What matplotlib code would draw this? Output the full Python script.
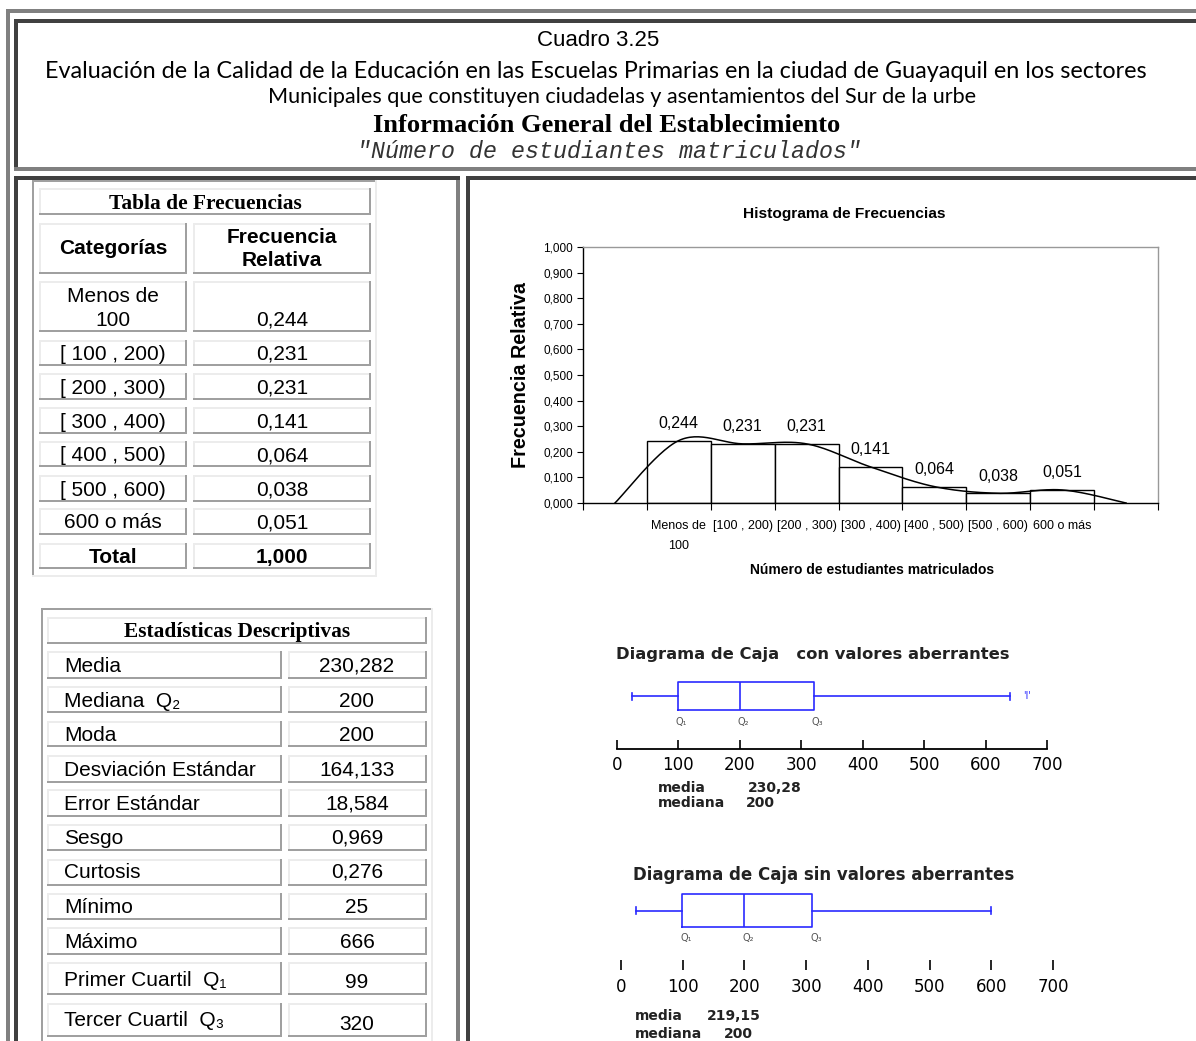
import numpy as np
import matplotlib
matplotlib.use('Agg')
import matplotlib.pyplot as plt
from matplotlib.patches import Rectangle
from matplotlib import font_manager as fm
from matplotlib.ticker import FuncFormatter, FixedLocator

# ---------------- data ----------------
categorias = ['Menos de\n100', '[ 100 , 200)', '[ 200 , 300)', '[ 300 , 400)',
              '[ 400 , 500)', '[ 500 , 600)', '600 o más']
hist_labels = ['Menos de\n100', '[100 , 200)', '[200 , 300)', '[300 , 400)',
               '[400 , 500)', '[500 , 600)', '600 o más']
frecuencia_relativa = [0.244, 0.231, 0.231, 0.141, 0.064, 0.038, 0.051]
frecuencia_total = 1.000
curva_valores = [0.0, 0.244, 0.231, 0.231, 0.141, 0.064, 0.038, 0.051, 0.0]
hist_yticks = [0.0, 0.1, 0.2, 0.3, 0.4, 0.5, 0.6, 0.7, 0.8, 0.9, 1.0]

estadisticas_nombres = ['Media', 'Mediana  Q₂', 'Moda', 'Desviación Estándar',
                        'Error Estándar', 'Sesgo', 'Curtosis', 'Mínimo', 'Máximo',
                        'Primer Cuartil  Q₁', 'Tercer Cuartil  Q₃']
estadisticas_valores = ['230,282', '200', '200', '164,133', '18,584', '0,969',
                        '0,276', '25', '666', '99', '320']

caja1_stats = dict(whislo=25, q1=99, med=200, q3=320, whishi=640)
caja1_aberrantes = [666]
caja2_stats = dict(whislo=25, q1=99, med=200, q3=310, whishi=600)
caja1_media, caja1_mediana = '230,28', '200'
caja2_media, caja2_mediana = '219,15', '200'
caja_ticks = [0, 100, 200, 300, 400, 500, 600, 700]

# ---------------- helpers ----------------
W, H = 1196, 1041
fig = plt.figure(figsize=(W / 100, H / 100), dpi=100)
fig.patch.set_facecolor('white')
bg = fig.add_axes([0, 0, 1, 1])
bg.set_xlim(0, W)
bg.set_ylim(H, 0)
bg.axis('off')
renderer = fig.canvas.get_renderer()


def have(name):
    try:
        fm.findfont(fm.FontProperties(family=name), fallback_to_default=False)
        return True
    except Exception:
        return False


NARROW = 'Liberation Sans Narrow' if have('Liberation Sans Narrow') else 'Liberation Sans'
SANS = 'Liberation Sans'
SERIF = 'Liberation Serif'
ROUND = 'Lato' if have('Lato') else 'DejaVu Sans'


def rect(x0, y0, x1, y1, c):
    bg.add_patch(Rectangle((x0, y0), x1 - x0, y1 - y0, facecolor=c,
                           edgecolor='none', lw=0))


def ftext(x, y, s, width=None, size=10, ax=None, **kw):
    ax = ax or bg
    t = ax.text(x, y, s, fontsize=size, **kw)
    if width:
        w = t.get_window_extent(renderer).width
        t.set_fontsize(size * width / w)
    return t


LIGHT = '#ececec'
MID = '#a0a0a0'
GRAY = '#808080'
DARK = '#404040'


def cell(x0, y0, x1, y1):
    rect(x0, y0, x1, y0 + 2, LIGHT)
    rect(x0, y0, x0 + 2, y1, LIGHT)
    rect(x0, y1 - 2, x1, y1, MID)
    rect(x1 - 2, y0, x1, y1, MID)


# ---------------- page frame ----------------
rect(6, 9, W, 13, GRAY)
rect(6, 9, 10, H, GRAY)
rect(14, 19, W, 23, DARK)
rect(14, 19, 18, 171, DARK)
rect(14, 167, W, 171, GRAY)
rect(14, 176, 460, 180, DARK)
rect(14, 176, 18, H, DARK)
rect(456, 180, 460, H, GRAY)
rect(466, 176, W, 180, DARK)
rect(466, 176, 470, H, DARK)

# ---------------- header titles ----------------
ftext(598, 40, 'Cuadro 3.25', width=123, family=NARROW, ha='center', va='center')
ftext(596, 72, 'Evaluación de la Calidad de la Educación en las Escuelas Primarias en la ciudad de Guayaquil en los sectores',
      width=1100, family=ROUND, ha='center', va='center')
ftext(622, 97, 'Municipales que constituyen ciudadelas y asentamientos del Sur de la urbe',
      width=709, family=ROUND, ha='center', va='center')
ftext(607, 125, 'Información General del Establecimiento', width=469, family=SERIF,
      weight='bold', ha='center', va='center')
ftext(609, 151, '"Número de estudiantes matriculados"', width=504, family='Liberation Mono',
      style='italic', color='#333333', ha='center', va='center')

# ---------------- table 1: frecuencias ----------------
rect(32, 180, 377, 182, MID)
rect(32, 180, 34, 577, MID)
rect(375, 180, 377, 577, LIGHT)
rect(32, 575, 377, 577, LIGHT)
cell(39, 188, 371, 215)
ftext(205, 209, 'Tabla de Frecuencias', width=193, family=SERIF, weight='bold',
      ha='center', va='baseline')
cell(39, 223, 187, 274)
cell(193, 223, 371, 274)
ftext(113, 254, 'Categorías', size=15, family=SANS, weight='bold', ha='center', va='baseline')
ftext(282, 243, 'Frecuencia', size=15, family=SANS, weight='bold', ha='center', va='baseline')
ftext(282, 266, 'Relativa', size=15, family=SANS, weight='bold', ha='center', va='baseline')

t1_rows = [(281, 332), (340, 366), (373, 400), (407, 434), (441, 467), (475, 502), (508, 535)]
for (y0, y1), cat, val in zip(t1_rows, categorias, frecuencia_relativa):
    cell(39, y0, 187, y1)
    cell(193, y0, 371, y1)
    vtxt = f'{val:.3f}'.replace('.', ',')
    if '\n' in cat:
        l1, l2 = cat.split('\n')
        ftext(113, y0 + 21, l1, size=15, family=SANS, ha='center', va='baseline')
        ftext(113, y0 + 45, l2, size=15, family=SANS, ha='center', va='baseline')
        ftext(282, y0 + 45, vtxt, size=15, family=SANS, ha='center', va='baseline')
    else:
        yb = (y0 + y1) / 2 + 7
        ftext(113, yb, cat, size=15, family=SANS, ha='center', va='baseline')
        ftext(282, yb, vtxt, size=15, family=SANS, ha='center', va='baseline')
cell(39, 543, 187, 569)
cell(193, 543, 371, 569)
ftext(113, 563, 'Total', size=15, family=SANS, weight='bold', ha='center', va='baseline')
ftext(282, 563, f'{frecuencia_total:.3f}'.replace('.', ','), size=15, family=SANS,
      weight='bold', ha='center', va='baseline')

# ---------------- table 2: estadisticas ----------------
rect(41, 608, 433, 610, MID)
rect(41, 608, 43, H, MID)
rect(431, 608, 433, H, LIGHT)
cell(47, 617, 427, 644)
ftext(237, 637, 'Estadísticas Descriptivas', width=226, family=SERIF, weight='bold',
      ha='center', va='baseline')
t2_rows = [(651, 679), (686, 713), (721, 747), (755, 783), (789, 817), (824, 851),
           (859, 886), (893, 920), (927, 955), (962, 995), (1003, 1037)]
t2_label_base = [672, 707, 741, 776, 810, 844, 878, 913, 948, 986, 1026]
t2_value_base = [672, 707, 741, 776, 810, 844, 878, 913, 948, 988, 1030]
for (y0, y1), nm, val, lb, vb in zip(t2_rows, estadisticas_nombres, estadisticas_valores,
                                     t2_label_base, t2_value_base):
    cell(47, y0, 282, y1)
    cell(288, y0, 427, y1)
    ftext(64, lb, nm, size=15, family=[SANS, 'DejaVu Sans'], ha='left', va='baseline')
    ftext(357, vb, val, size=15, family=SANS, ha='center', va='baseline')

# ---------------- histogram ----------------
axh = fig.add_axes([583 / W, 1 - 503 / H, (1158 - 583) / W, (503 - 247) / H])
xpos = np.arange(len(frecuencia_relativa)) + 1
axh.bar(xpos, frecuencia_relativa, width=1, align='edge', color='white',
        edgecolor='black', lw=1, zorder=2)


def smooth(xs, ys, n=30):
    P = np.column_stack([xs, ys]).astype(float)
    E = np.vstack([P[0], P, P[-1]])
    out = []
    for i in range(1, len(E) - 2):
        p0, p1, p2, p3 = E[i - 1], E[i], E[i + 1], E[i + 2]
        c1 = p1 + (p2 - p0) / 6
        c2 = p2 - (p3 - p1) / 6
        t = np.linspace(0, 1, n)[:, None]
        out.append((1 - t) ** 3 * p1 + 3 * (1 - t) ** 2 * t * c1 +
                   3 * (1 - t) * t ** 2 * c2 + t ** 3 * p2)
    return np.vstack(out)


cx = np.arange(len(curva_valores)) + 0.5
cv = smooth(cx, curva_valores)
axh.plot(cv[:, 0], cv[:, 1], color='black', lw=1.1, zorder=3, clip_on=False)
for x, v in zip(xpos, frecuencia_relativa):
    axh.annotate(f'{v:.3f}'.replace('.', ','), (x + 0.5, v), xytext=(0, 7),
                 textcoords='offset points', ha='center', va='bottom',
                 fontsize=11.5, family=SANS)
axh.set_xlim(0, 9)
axh.set_ylim(0, 1)
axh.set_yticks(hist_yticks)
axh.yaxis.set_major_formatter(FuncFormatter(lambda v, p: f'{v:.3f}'.replace('.', ',')))
axh.tick_params(axis='y', direction='out', length=4, width=0.8, pad=3, labelsize=8.5)
for lb in axh.get_yticklabels():
    lb.set_family(NARROW)
axh.xaxis.set_major_locator(FixedLocator(list(range(0, 10))))
axh.set_xticklabels([])
axh.xaxis.set_minor_locator(FixedLocator(list(xpos + 0.5)))
axh.set_xticklabels(hist_labels, minor=True)
axh.tick_params(axis='x', which='major', direction='out', length=5, width=0.8)
axh.tick_params(axis='x', which='minor', length=0, pad=12, labelsize=9)
for lb in axh.get_xticklabels(minor=True):
    lb.set_family(NARROW)
    lb.set_linespacing(1.9)
    lb.set_verticalalignment('top')
for s in ['top', 'right']:
    axh.spines[s].set_color('#999999')
    axh.spines[s].set_linewidth(1)
for s in ['left', 'bottom']:
    axh.spines[s].set_color('black')
    axh.spines[s].set_linewidth(1)

ftext(844, 214, 'Histograma de Frecuencias', width=202, family=NARROW, weight='bold',
      ha='center', va='center')
ftext(872, 570, 'Número de estudiantes matriculados', width=245, family=NARROW,
      weight='bold', ha='center', va='center')
t = bg.text(520, 375, 'Frecuencia Relativa', rotation=90, fontsize=10, family=SANS,
            weight='bold', ha='center', va='center')
h = t.get_window_extent(renderer).height
t.set_fontsize(10 * 185 / h)

# ---------------- box plots ----------------
BLUE = '#2a2aff'
TXT = '#222222'


def draw_box(ax, stats, pos, width, capw):
    st = dict(stats, label='')
    kw = dict(positions=[pos], widths=width, showfliers=False, capwidths=[capw],
              boxprops=dict(color=BLUE, lw=1.2), whiskerprops=dict(color=BLUE, lw=1.2),
              capprops=dict(color=BLUE, lw=1.2), medianprops=dict(color=BLUE, lw=1.2))
    try:
        ax.bxp([st], orientation='horizontal', **kw)
    except TypeError:
        ax.bxp([st], vert=False, **kw)


# plot 1
ax1 = fig.add_axes([617 / W, 1 - 749 / H, 430 / W, 74 / H])
draw_box(ax1, caja1_stats, 0.716, 0.378, 0.095)
for v in caja1_aberrantes:
    ax1.text(v + 2, 0.716, "'I'", color=BLUE, fontsize=7, ha='center', va='center')
ax1.set_xlim(0, 700)
ax1.set_ylim(0, 1)
ax1.set_yticks([])
ax1.set_xticks(caja_ticks)
ax1.set_xticklabels([str(v) for v in caja_ticks])
ax1.tick_params(axis='x', direction='in', length=6.5, width=1.2, pad=5, labelsize=12)
for s in ['top', 'right', 'left']:
    ax1.spines[s].set_visible(False)
ax1.spines['bottom'].set_linewidth(1.3)
ax1.patch.set_alpha(0)
for q, nm in zip([caja1_stats['q1'], caja1_stats['med'], caja1_stats['q3']], ['Q₁', 'Q₂', 'Q₃']):
    ax1.text(q + 6, 0.36, nm, fontsize=7, color='#555555', ha='center', va='center')

ftext(616, 655, 'Diagrama de Caja   con valores aberrantes', width=396,
      family='DejaVu Sans', weight='bold', color=TXT, ha='left', va='center')
ftext(658, 788, 'media', size=10, family='DejaVu Sans', weight='bold', color=TXT, va='center')
ftext(748, 788, caja1_media, size=10, family='DejaVu Sans', weight='bold', color=TXT, va='center')
ftext(658, 803, 'mediana', size=10, family='DejaVu Sans', weight='bold', color=TXT, va='center')
ftext(746, 803, caja1_mediana, size=10, family='DejaVu Sans', weight='bold', color=TXT, va='center')

# plot 2
ax2 = fig.add_axes([621 / W, 1 - 970 / H, 432 / W, 84 / H])
draw_box(ax2, caja2_stats, 0.708, 0.393, 0.083)
ax2.set_xlim(0, 700)
ax2.set_ylim(0, 1)
ax2.set_yticks([])
ax2.set_xticks(caja_ticks)
ax2.set_xticklabels([str(v) for v in caja_ticks])
ax2.tick_params(axis='x', direction='in', length=7, width=1.2, pad=6, labelsize=12)
for s in ['top', 'right', 'left', 'bottom']:
    ax2.spines[s].set_visible(False)
ax2.patch.set_alpha(0)
for q, nm in zip([caja2_stats['q1'], caja2_stats['med'], caja2_stats['q3']], ['Q₁', 'Q₂', 'Q₃']):
    ax2.text(q + 6, 0.38, nm, fontsize=7, color='#555555', ha='center', va='center')

ftext(633, 875, 'Diagrama de Caja sin valores aberrantes', width=382,
      family='DejaVu Sans', weight='bold', color=TXT, ha='left', va='center')
ftext(635, 1016, 'media', size=10, family='DejaVu Sans', weight='bold', color=TXT, va='center')
ftext(707, 1016, caja2_media, size=10, family='DejaVu Sans', weight='bold', color=TXT, va='center')
ftext(635, 1034, 'mediana', size=10, family='DejaVu Sans', weight='bold', color=TXT, va='center')
ftext(724, 1034, caja2_mediana, size=10, family='DejaVu Sans', weight='bold', color=TXT, va='center')

fig.savefig('out.png', dpi=100, facecolor='white')
